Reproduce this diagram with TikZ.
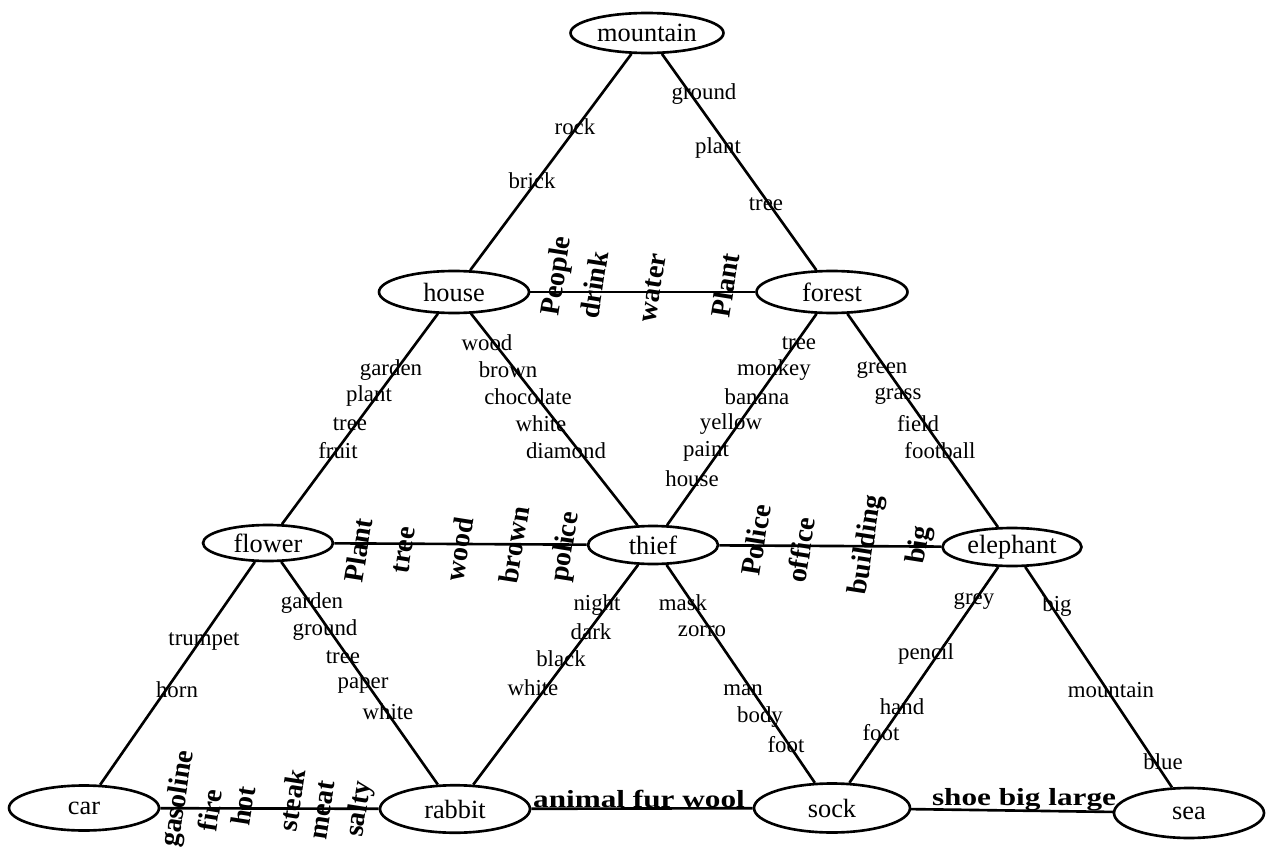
\documentclass[tikz,border=0pt]{standalone}
\usepackage{fontspec}
\setmainfont{Liberation Serif}
\usetikzlibrary{shapes.geometric}
\tikzset{
  concept/.style={draw, ellipse, line width=1.5pt, inner sep=0pt, font=\fontsize{15}{16}\selectfont},
  link/.style={line width=1.5pt},
  lbl/.style={inner sep=0pt, font=\fontsize{13}{14}\selectfont},
  rlbl/.style={inner sep=0pt, rotate=81, font=\bfseries\upshape\fontsize{16}{17}\selectfont},
  blbl/.style={inner sep=0pt, font=\bfseries\fontsize{14}{15}\selectfont},
}
\begin{document}
\begin{tikzpicture}[x=0.02cm,y=-0.02cm]
\useasboundingbox (0,0) rectangle (1268,848);
% concepts
\node[concept, minimum width=3.06cm, minimum height=0.8cm] (mountain) at (647,33) {mountain};
\node[concept, minimum width=3.0cm, minimum height=0.84cm] (house) at (454,292) {house};
\node[concept, minimum width=3.02cm, minimum height=0.84cm] (forest) at (832,292) {forest};
\node[concept, minimum width=2.6cm, minimum height=0.72cm] (flower) at (268,543) {flower};
\node[concept, minimum width=2.6cm, minimum height=0.76cm] (thief) at (653,545) {thief};
\node[concept, minimum width=2.78cm, minimum height=0.76cm] (elephant) at (1012,547) {elephant};
\node[concept, minimum width=3.0cm, minimum height=0.9cm] (car) at (84,808) {car};
\node[concept, minimum width=3.0cm, minimum height=0.95cm] (rabbit) at (455,809) {rabbit};
\node[concept, minimum width=3.12cm, minimum height=0.98cm] (sock) at (832,808) {sock};
\node[concept, minimum width=3.0cm, minimum height=1.0cm] (sea) at (1189,813) {sea};
% links
\draw[link] (mountain) -- (house);
\draw[link] (mountain) -- (forest);
\draw[link] (house) -- (forest);
\draw[link] (house) -- (flower);
\draw[link] (house) -- (thief);
\draw[link] (forest) -- (thief);
\draw[link] (forest) -- (elephant);
\draw[link] (flower) -- (thief);
\draw[link] (thief) -- (elephant);
\draw[link] (flower) -- (car);
\draw[link] (flower) -- (rabbit);
\draw[link] (thief) -- (rabbit);
\draw[link] (thief) -- (sock);
\draw[link] (elephant) -- (sock);
\draw[link] (elephant) -- (sea);
\draw[link] (car) -- (rabbit);
\draw[link] (rabbit) -- (sock);
\draw[link] (sock) -- (sea);
% plain labels
\foreach \t/\x/\y [count=\i] in {
  rock/575/127, brick/532/181,
  ground/704/94, plant/718/148, tree/766/204,
  garden/391/370, plant/369/396, tree/350/424, fruit/338/451,
  wood/487/343, brown/508/370, chocolate/528/397, white/541/424, diamond/566/451,
  tree/799/343, monkey/774/370, banana/757/397, yellow/731/424, paint/706/451, house/692/479,
  green/882/370, grass/898/396, field/918/424, football/940/451,
  trumpet/204/641, horn/177/690,
  garden/312/603, ground/325/630, tree/343/657, paper/363/686, white/388/712,
  night/597/605, dark/591/632, black/561/659, white/533/688,
  mask/683/603, zorro/702/631, man/743/690, body/760/717, foot/786/745,
  grey/974/601, pencil/926/654, hand/902/707, foot/881/733,
  big/1057/606, mountain/1111/690, blue/1163/762}
  \node[lbl] (l\i) at (\x,\y) {\t};
% rotated bold labels
\foreach \t/\x/\y [count=\i] in {
  People/558/276, drink/594/285, water/653/288, Plant/725/285,
  Plant/358/550, tree/404/550, wood/459/549, brown/514/545, police/566/547,
  Police/756/540, office/801/550, building/867/545, big/920/545,
  gasoline/179/799, fire/210/810, hot/243/806, steak/292/800, meat/323/810, salty/360/809}
  \node[rlbl] (r\i) at (\x,\y) {\t};
% bottom bold labels
\node[blbl] (afw) at (639,799) {\scalebox{1.27}[1]{animal fur wool}};
\node[blbl] (sbl) at (1024,800) {\scalebox{1.27}[1]{shoe big large}};
\end{tikzpicture}
\end{document}
